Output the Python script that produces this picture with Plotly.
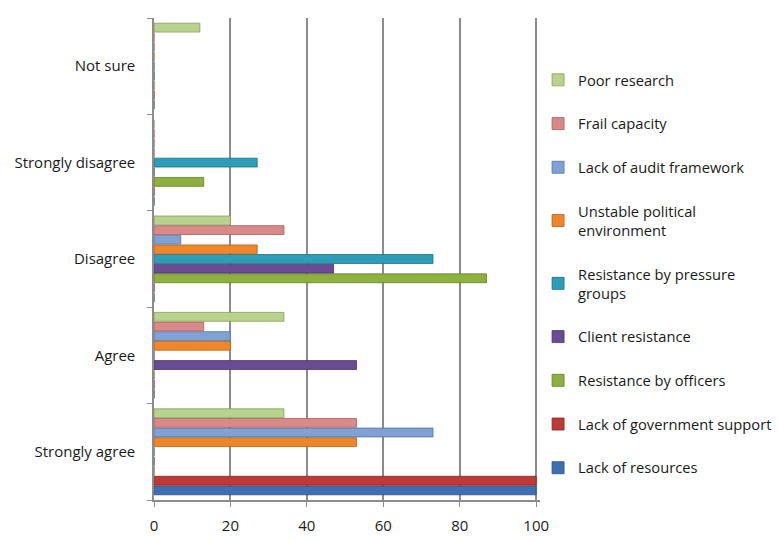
import plotly.graph_objects as go

categories = ["Strongly agree", "Agree", "Disagree", "Strongly disagree", "Not sure"]

series_names = [
    "Lack of resources",
    "Lack of government support",
    "Resistance by officers",
    "Client resistance",
    "Resistance by pressure<br>groups",
    "Unstable political<br>environment",
    "Lack of audit framework",
    "Frail capacity",
    "Poor research",
]

lack_of_resources = [100, 0, 0, 0, 0]
lack_of_gov_support = [100, 0, 0, 0, 0]
resistance_by_officers = [0, 0, 87, 13, 0]
client_resistance = [0, 53, 47, 0, 0]
resistance_by_pressure = [0, 0, 73, 27, 0]
unstable_political = [53, 20, 27, 0, 0]
lack_of_audit = [73, 20, 7, 0, 0]
frail_capacity = [53, 13, 34, 0, 0]
poor_research = [34, 34, 20, 0, 12]

series_values = [
    lack_of_resources, lack_of_gov_support, resistance_by_officers,
    client_resistance, resistance_by_pressure, unstable_political,
    lack_of_audit, frail_capacity, poor_research,
]

colors = ["#3F6FB0", "#BE3A36", "#8DB03F", "#6A4C93", "#2E9DB8",
          "#F0862A", "#7FA1D6", "#D98A88", "#B7D38C"]
edges = ["#2A4E80", "#8A2522", "#62802A", "#4A3368", "#1D6F85",
         "#B8611A", "#55739E", "#A45F5D", "#86A05E"]

x_ticks = [0, 20, 40, 60, 80, 100]

fig = go.Figure()
n = len(series_names)
for i, (name, vals, c, e) in enumerate(zip(series_names, series_values, colors, edges)):
    fig.add_trace(go.Bar(
        y=categories, x=vals, name=name, orientation="h",
        marker=dict(color=c, line=dict(color=e, width=0.8)),
        legendgroup=name, legendrank=100 + (n - i),
    ))

font_family = "'Open Sans', sans-serif"

fig.update_layout(
    width=779, height=541,
    margin=dict(l=154, r=239, t=18, b=41, autoexpand=False),
    paper_bgcolor="white", plot_bgcolor="white",
    barmode="group", bargap=0.1, bargroupgap=0.08,
    font=dict(family=font_family, size=15, color="#1a1a1a"),
    showlegend=True,
    legend=dict(
        traceorder="grouped",
        tracegroupgap=21.6,
        x=0.995, xanchor="left", y=0.905, yanchor="top",
        bgcolor="rgba(0,0,0,0)", borderwidth=0,
        font=dict(family=font_family, size=14.7, color="#1a1a1a"),
        itemwidth=30,
    ),
    xaxis=dict(
        range=[0, 101], tickvals=x_ticks, ticktext=[str(v) for v in x_ticks],
        showgrid=True, gridcolor="#8c8c8c", gridwidth=1.5,
        showline=True, linecolor="#8c8c8c", linewidth=1.5,
        ticks="outside", ticklen=5, tickcolor="#8c8c8c",
        ticklabelstandoff=6, zeroline=False,
    ),
    yaxis=dict(
        categoryorder="array", categoryarray=categories,
        showline=True, linecolor="#8c8c8c", linewidth=1.5,
        ticks="outside", ticklen=5, tickcolor="#8c8c8c",
        tickson="boundaries", showgrid=False,
        ticklabelstandoff=14,
    ),
)

fig.write_html("out.html")
